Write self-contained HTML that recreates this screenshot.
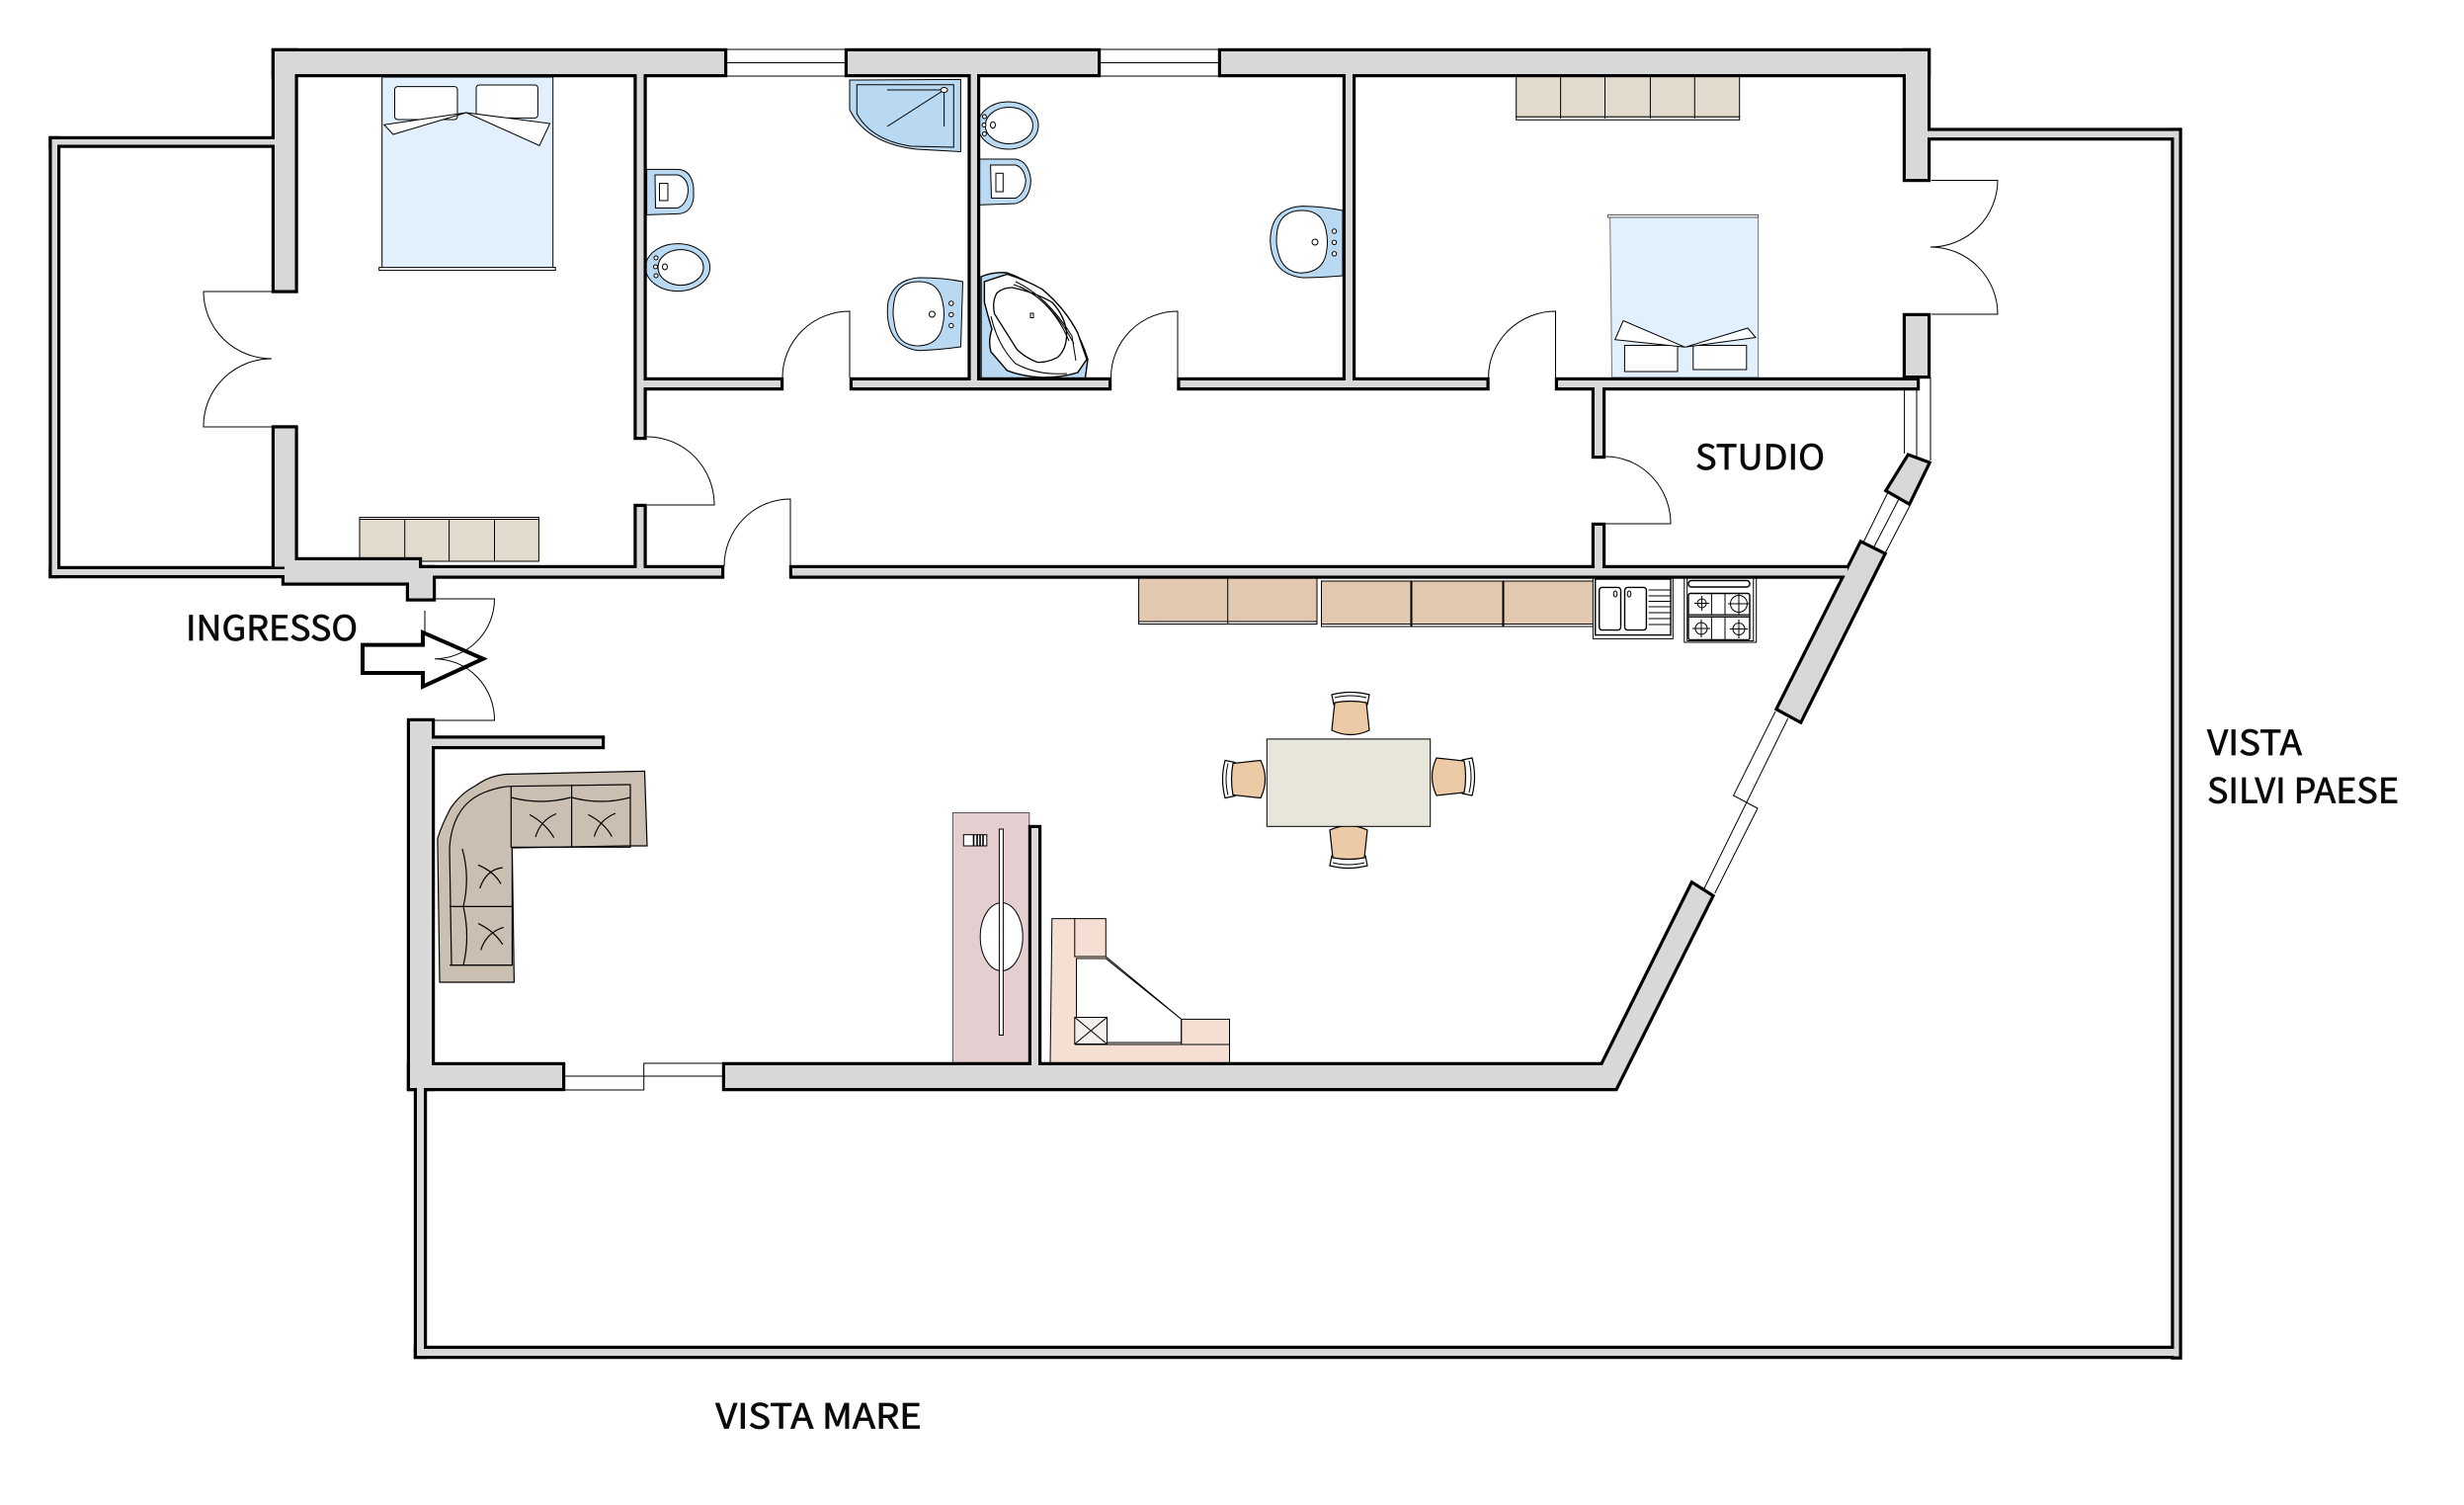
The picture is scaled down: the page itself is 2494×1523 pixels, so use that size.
<!DOCTYPE html>
<html><head><meta charset="utf-8"><title>Floor plan</title>
<style>html,body{margin:0;padding:0;background:#fff}svg{display:block}
text{font-family:"Noto Sans CJK SC","Liberation Sans",sans-serif;font-size:35px;fill:#0a0a0a;stroke:#0a0a0a;stroke-width:.7px}</style></head>
<body>
<svg width="2494" height="1523" viewBox="0 0 2494 1523" xmlns="http://www.w3.org/2000/svg">
<defs>
<g id="walls">
<rect x="278" y="52" width="455" height="23"/>
<rect x="278" y="52" width="20.5" height="241.5"/>
<rect x="278" y="433.5" width="20.5" height="140"/>
<rect x="52.5" y="141" width="225.5" height="5.5"/>
<rect x="52.5" y="141" width="5.5" height="441"/>
<rect x="52.5" y="576" width="236" height="6"/>
<rect x="288" y="567" width="136" height="22.5"/>
<rect x="414" y="575" width="24" height="30.5"/>
<rect x="424" y="575" width="306" height="7.5"/>
<rect x="644.5" y="60" width="7" height="382"/>
<rect x="644.5" y="513" width="7" height="65"/>
<rect x="651" y="385" width="139" height="7"/>
<rect x="863" y="385" width="259" height="7"/>
<rect x="1194.5" y="385" width="310" height="7"/>
<rect x="1577" y="385" width="363" height="7"/>
<rect x="982.6" y="60" width="6.4" height="330"/>
<rect x="1362" y="60" width="7" height="330"/>
<rect x="858" y="52" width="253" height="23"/>
<rect x="1236" y="52" width="715" height="23"/>
<rect x="1929" y="52" width="22" height="129"/>
<rect x="1929" y="320" width="22" height="60"/>
<rect x="1614" y="388" width="8" height="73"/>
<rect x="1614" y="532" width="8" height="46"/>
<rect x="802" y="575" width="1068" height="7.5"/>
<polygon points="1884,550 1906,561 1822,729 1800,717"/>
<polygon points="1932,462 1951,469 1932,508 1911,496"/>
<polygon points="734,1078 1622,1078 1713,895 1732,907 1635,1101 734,1101"/>
<rect x="415" y="730" width="22" height="371"/>
<rect x="415" y="1078" width="154" height="23"/>
<rect x="422" y="1095" width="7" height="277"/>
<rect x="422" y="1365" width="1783" height="7"/>
<rect x="2200.5" y="132.6" width="5" height="1240"/>
<rect x="1945" y="132.6" width="260" height="6.5"/>
<rect x="430" y="747.5" width="179" height="7.5"/>
<rect x="1044" y="838" width="7" height="245"/>
</g>
<g id="chair">
<path d="M-19 -20 Q0 -25 19 -20 L17 -10 L-17 -10Z" fill="#fff" stroke="#000" stroke-width="1.2"/>
<path d="M-16 -17 Q0 -21 16 -17" fill="none" stroke="#000" stroke-width="1"/>
<path d="M-16 -12 Q0 -15 16 -12 L19 16 Q0 25 -19 16Z" fill="#eccaa6" stroke="#000" stroke-width="1.2"/>
</g>
</defs>

<!-- beds -->
<rect x="386.7" y="78" width="173" height="193" fill="#e2effc" stroke="#000" stroke-width="1"/>
<rect x="383.7" y="270.6" width="178.5" height="3" fill="#fff" stroke="#000" stroke-width="1"/>
<g fill="#fff" stroke="#000" stroke-width="1">
<rect x="399.5" y="87.6" width="63.5" height="33.4" rx="3"/>
<rect x="482" y="86" width="62.4" height="33.4" rx="3"/>
<polygon points="388.8,126.3 472,114 398,136"/>
<polygon points="472,114 556.6,125 546,147.3"/>
<polygon points="1629.6,218.7 1779.6,218.7 1779.6,382 1631.6,382" fill="#e2effc" stroke="#777"/>
<rect x="1627.5" y="217.4" width="152" height="2.6" stroke="#555"/>
<rect x="1644.4" y="349.5" width="53.6" height="26.5"/>
<rect x="1713.8" y="349.5" width="54" height="24.5"/>
<polygon points="1705.6,351.3 1643,324.5 1634.7,343.7"/>
<polygon points="1705.6,351.3 1769,332 1777,341.5"/>
</g>

<!-- wardrobes -->
<g fill="#e2dbcd" stroke="#000" stroke-width="1">
<rect x="364" y="523.5" width="181.4" height="2" fill="#fff"/>
<rect x="364" y="525.5" width="181.4" height="42.5"/>
<path d="M409.7 525V568M454.6 525V568M500.5 525V568" fill="none"/>
<rect x="1534.7" y="76" width="226" height="42.3"/>
<rect x="1534.7" y="118.3" width="226" height="3" fill="#fff"/>
<path d="M1579.6 76V120M1624.5 76V120M1670.4 76V120M1715.3 76V120" fill="none"/>
</g>

<!-- sanitary -->
<g fill="#b9d8f1" stroke="#000" stroke-width="1">
<path d="M654.6 171.4H686Q700 172 702 190V200Q700 216 686 216.4L654.6 217.4Z"/>
<path d="M663 177H686Q696 180 696.5 192Q696 206 686 210.5H663.5Z" fill="#fff"/>
<rect x="667.5" y="185.6" width="8.5" height="17.4" fill="#fff"/>
<ellipse cx="686" cy="270.6" rx="32.6" ry="24"/>
<ellipse cx="689" cy="270.6" rx="23" ry="18" fill="#fff"/>
<ellipse cx="664" cy="261" rx="2" ry="2" fill="#fff"/><ellipse cx="663.5" cy="270" rx="2" ry="2" fill="#fff"/><ellipse cx="664" cy="279" rx="2" ry="2" fill="#fff"/><ellipse cx="673" cy="270" rx="2.5" ry="3" fill="#fff"/>

<path d="M860 81L972.4 80.4V153.5L927.5 151Q876.5 145 860 111Z"/>
<path d="M867.3 85.7H965.3V149L922 148Q881.6 141.6 867.3 115Z"/>
<path d="M898 91H955.6L898 128M955.6 91V128" fill="none"/>
<ellipse cx="955.6" cy="91" rx="3.5" ry="2.5" fill="#fff"/>

<path d="M974.5 285L972.5 351Q950 354 930 354.8Q906 352 900 330Q897 318 899 305Q905 283 930 281Q955 281 974.5 285Z"/>
<path d="M930 285Q950 285 954 305Q957 318 954 330Q950 349 930 350Q907 350 905 325Q903 318 905 305Q908 285 930 285Z" fill="#fff"/>
<circle cx="962.8" cy="307" r="2.2" fill="#fff"/><circle cx="962.8" cy="318.4" r="2.2" fill="#fff"/><circle cx="962.8" cy="329.5" r="2.2" fill="#fff"/><circle cx="943.4" cy="318" r="3" fill="#fff"/>

<path d="M1359 213L1359 279Q1335 281 1318 281Q1294 278 1288 258Q1284 245 1287 232Q1292 210 1318 208.6Q1340 209 1359 213Z"/>
<path d="M1318 213Q1338 213 1342 232Q1345 245 1342 258Q1338 275 1318 276.3Q1297 276 1293 252Q1291 245 1293 232Q1297 213 1318 213Z" fill="#fff"/>
<circle cx="1350.5" cy="234" r="2.2" fill="#fff"/><circle cx="1350.5" cy="245.3" r="2.2" fill="#fff"/><circle cx="1350.5" cy="256.8" r="2.2" fill="#fff"/><circle cx="1331" cy="245" r="3" fill="#fff"/>

<ellipse cx="1020.4" cy="127" rx="30.6" ry="24"/>
<ellipse cx="1021.4" cy="127" rx="24" ry="18.5" fill="#fff"/>
<circle cx="996.4" cy="118" r="2" fill="#fff"/><circle cx="996" cy="126.5" r="2" fill="#fff"/><circle cx="996.4" cy="135.5" r="2" fill="#fff"/><ellipse cx="1005" cy="126.5" rx="2.5" ry="3.2" fill="#fff"/>

<path d="M991.3 161H1028Q1041 163 1043.4 182Q1043 202 1028 206L991.3 207.4Z"/>
<path d="M1002.6 167H1028Q1037 170 1038.3 183Q1037 196 1028 200.5H1003.5Z" fill="#fff"/>
<rect x="1008" y="175.3" width="7.3" height="18.7" fill="#fff"/>

<path d="M993 382.7V280Q1005 275 1019 276Q1040 283 1065 302Q1090 328 1101 363.5L1098.5 382.7Z" stroke-width="1.4"/>
<path d="M996.4 285L1019.4 277.5Q1040 284 1055 292.8Q1078 312 1090.8 336.8L1100 363.6L1090.8 377Q1075 382 1055 382Q1035 381 1019.4 375L1003 356Q1000 345 1004 333Q1000 320 996.4 306Z" fill="#fff" stroke-width="1.4"/>
<path d="M1024.5 291Q1048 296 1065 306Q1078 320 1079.6 336.8Q1080 353 1070.4 361.7Q1060 367 1050 366.6Q1038 362 1029.6 354L1006.6 317.6Q1004 305 1009 296.6Q1015 291 1024.5 291Z" fill="#fff" stroke-width="1.3"/>
<path d="M1028 285Q1060 300 1085 340L1089 365M1032 290Q1065 305 1082 345M1026 288Q1062 300 1087 348" fill="none"/>
<path d="M1003 320Q1010 350 1028 368Q1050 380 1080 378" fill="none"/>
<rect x="1043" y="317" width="3" height="4.5" fill="#fff"/>
</g>

<!-- kitchen -->
<g fill="#e2c8ae" stroke="#000" stroke-width="1">
<rect x="1152.6" y="585" width="180.4" height="44"/>
<rect x="1152.6" y="629" width="180.4" height="2.5" fill="#fff"/>
<path d="M1242.7 585V631.5" fill="none"/>
<rect x="1337.5" y="588" width="90.5" height="43.5"/><rect x="1337.5" y="631.5" width="90.5" height="2.5" fill="#fff"/>
<rect x="1429" y="588" width="92" height="43.5"/><rect x="1429" y="631.5" width="92" height="2.5" fill="#fff"/>
<rect x="1522" y="588" width="91" height="43.5"/><rect x="1522" y="631.5" width="91" height="2.5" fill="#fff"/>
</g>
<g fill="#fff" stroke="#000" stroke-width="1">
<rect x="1612.4" y="585" width="80.9" height="61.4"/>
<rect x="1614.7" y="586" width="76.3" height="56.6" stroke-width="1.4"/>
<rect x="1618.7" y="594.4" width="21.8" height="43.2" rx="3" stroke-width="1.4"/>
<rect x="1644.5" y="594.4" width="21.9" height="43.2" rx="3" stroke-width="1.4"/>
<ellipse cx="1635" cy="601" rx="1.8" ry="3"/><ellipse cx="1649" cy="601" rx="1.8" ry="3"/>
<path d="M1668.6 597H1690.5M1668.6 603H1690.5M1668.6 608.5H1690.5M1668.6 614H1690.5M1668.6 620H1690.5M1668.6 626H1690.5M1668.6 632H1690.5" fill="none"/>
<rect x="1704.8" y="585" width="72.9" height="65"/>
<rect x="1707.7" y="585" width="67.1" height="63.5"/>
<rect x="1709" y="587.5" width="62" height="6.5" rx="3" stroke-width="1.4"/>
<rect x="1709" y="600.5" width="62" height="47" rx="2" stroke-width="1.4"/>
<path d="M1732.4 600.5V647.5M1746 600.5V647.5M1709 622.7H1771" fill="none"/>
<rect x="1709" y="622" width="62" height="2.4" fill="#888"/>
<circle cx="1722.6" cy="610.5" r="4.5"/><path d="M1722.6 603V618M1715 610.5H1730" fill="none"/>
<circle cx="1760" cy="611" r="8.5"/><path d="M1760 600.5V621.5M1749 611H1771" fill="none"/>
<circle cx="1722" cy="636" r="6"/><path d="M1722 627V645M1713 636H1731" fill="none"/>
<circle cx="1760" cy="636.5" r="6"/><path d="M1760 627V646M1751 636.5H1769" fill="none"/>
</g>

<!-- table and chairs -->
<use href="#chair" transform="translate(1367,723)"/>
<use href="#chair" transform="translate(1365,856) rotate(180)"/>
<use href="#chair" transform="translate(1470,786) rotate(90)"/>
<use href="#chair" transform="translate(1260,788.5) rotate(-90)"/>
<rect x="1282.3" y="747.9" width="165.4" height="88.4" fill="#e8e5da" stroke="#000" stroke-width="1"/>

<!-- pink unit -->
<rect x="964.4" y="822.5" width="77.4" height="255" fill="#e4ced0" stroke="#555" stroke-width="1"/>
<ellipse cx="1013.7" cy="948" rx="21.5" ry="34.4" fill="#fff" stroke="#000" stroke-width="1"/>
<rect x="1011.4" y="839" width="4" height="208.5" fill="#fff" stroke="#000" stroke-width="1"/>
<rect x="975.3" y="844.7" width="23.5" height="11.3" fill="#fff" stroke="#000" stroke-width="1"/>
<path d="M985.5 844.7V856M989 844.7V856M992 844.7V856M995 844.7V856" stroke="#000" stroke-width="1.6"/>

<!-- corner unit -->
<path d="M1064.8 929.6H1119.3V968L1195.7 1031.4H1244.5V1076H1063Z" fill="#f5dfd3" stroke="#000" stroke-width="1"/>
<path d="M1089.5 970H1119.3L1195.7 1031.4V1055H1120.5V1030H1089.5Z" fill="#fff" stroke="#000" stroke-width="1"/>
<path d="M1087.8 929.6V968H1119.3M1195.7 1031.4V1057M1088 1057H1244.5" fill="none" stroke="#000" stroke-width="1"/>
<rect x="1087.8" y="1029.5" width="32.7" height="27" fill="#f3f0ee" stroke="#000" stroke-width="1"/>
<path d="M1087.8 1029.5L1120.5 1056.5M1120.5 1029.5L1087.8 1056.5" stroke="#000" stroke-width="1"/>

<!-- sofa -->
<g fill="#cbbfb1" stroke="#000" stroke-width="1.2">
<path d="M445 994L442.9 848.5Q447 835 456 818Q466 803 481.6 795Q495 785 512 783.5L652.5 780.4L655 856H638L518.4 858L520.4 994Z"/>
<path d="M455 858Q458 815 490 802Q505 796 517.3 795.7L638 794V857.3H518.4V976.7H457L455 858Z" fill="none"/>
<path d="M517.3 795.7V858M578.6 794V857.3" fill="none"/>
<path d="M455 917.4H518.4M518.4 976.7H455" fill="none"/>
<path d="M517.3 807Q548 815 577.6 807M578.6 807Q608 815 637.8 807M467.9 859Q476 887 469 917.4Q476 948 469 976.7" fill="none"/>
<path d="M536 824.4Q552 833 560.7 847.7M563 823.5Q547 830 542 847M595.4 824.4Q612 833 619.4 846.6M623 823Q606 830 601.5 846.6M484 875.3Q500 882 507 894.4M508.7 878Q492 880 485.7 899M484 934.6Q500 942 508.7 955.7M509.7 938.4Q492 944 486.7 961.4" fill="none"/>
</g>

<!-- walls: outline pass then fill pass -->
<use href="#walls" fill="#000" stroke="#000" stroke-width="6.4" stroke-linejoin="miter"/>
<use href="#walls" fill="#d8d8d8" stroke="none"/>

<!-- windows -->
<g fill="none" stroke="#000" stroke-width="1">
<path d="M736 50H855M736 63.5H855M736 77H855"/>
<path d="M1114 50H1233M1114 63.5H1233M1114 77H1233"/>
<path d="M572 1089H731M572 1103H651.7V1076H731"/>
<path d="M1927.6 393V459M1940 393V462M1954 382V466"/>
<path d="M1911 498L1886 549M1922 505L1896 555M1933 512L1908 560"/>
<path d="M1797 720L1754.6 805L1779 818L1735.7 904M1809.7 727L1725 899"/>
<!-- doors -->
<path d="M275 295H206A69 68 0 0 0 275 363A69 68 0 0 0 206 432H275"/>
<path d="M655 442A68 69 0 0 1 723 511H655"/>
<path d="M733 573A67 68 0 0 1 800 505V573"/>
<path d="M792 382A68 67 0 0 1 860 315V382"/>
<path d="M1124.5 382A67.5 67 0 0 1 1192 315V382"/>
<path d="M1506.6 382A68 67 0 0 1 1574.5 315V382"/>
<path d="M1955 182.5H2022A68 68 0 0 1 1954 250A68 68 0 0 1 2022 318H1955"/>
<path d="M1625 462A66 68 0 0 1 1691 530H1625"/>
<path d="M440 606H500.5A60.5 60.7 0 0 1 440 666.7A60.5 62 0 0 1 500.5 729H440"/>
<path d="M430 618V640"/>
</g>

<!-- entrance arrow -->
<polygon points="367,652.6 428,652.6 428,640 489,666.7 428,694.7 428,681 367,681" fill="none" stroke="#000" stroke-width="4"/>

<!-- labels -->
<text x="188" y="648" textLength="174" lengthAdjust="spacingAndGlyphs">INGRESSO</text>
<text x="1716" y="475" textLength="131" lengthAdjust="spacingAndGlyphs">STUDIO</text>
<text x="2234" y="764" textLength="96" lengthAdjust="spacingAndGlyphs">VISTA</text>
<text x="2234" y="812.7" textLength="194" lengthAdjust="spacingAndGlyphs">SILVI PAESE</text>
<text x="724.3" y="1445.7" textLength="208.4" lengthAdjust="spacingAndGlyphs">VISTA MARE</text>
</svg>
</body></html>
